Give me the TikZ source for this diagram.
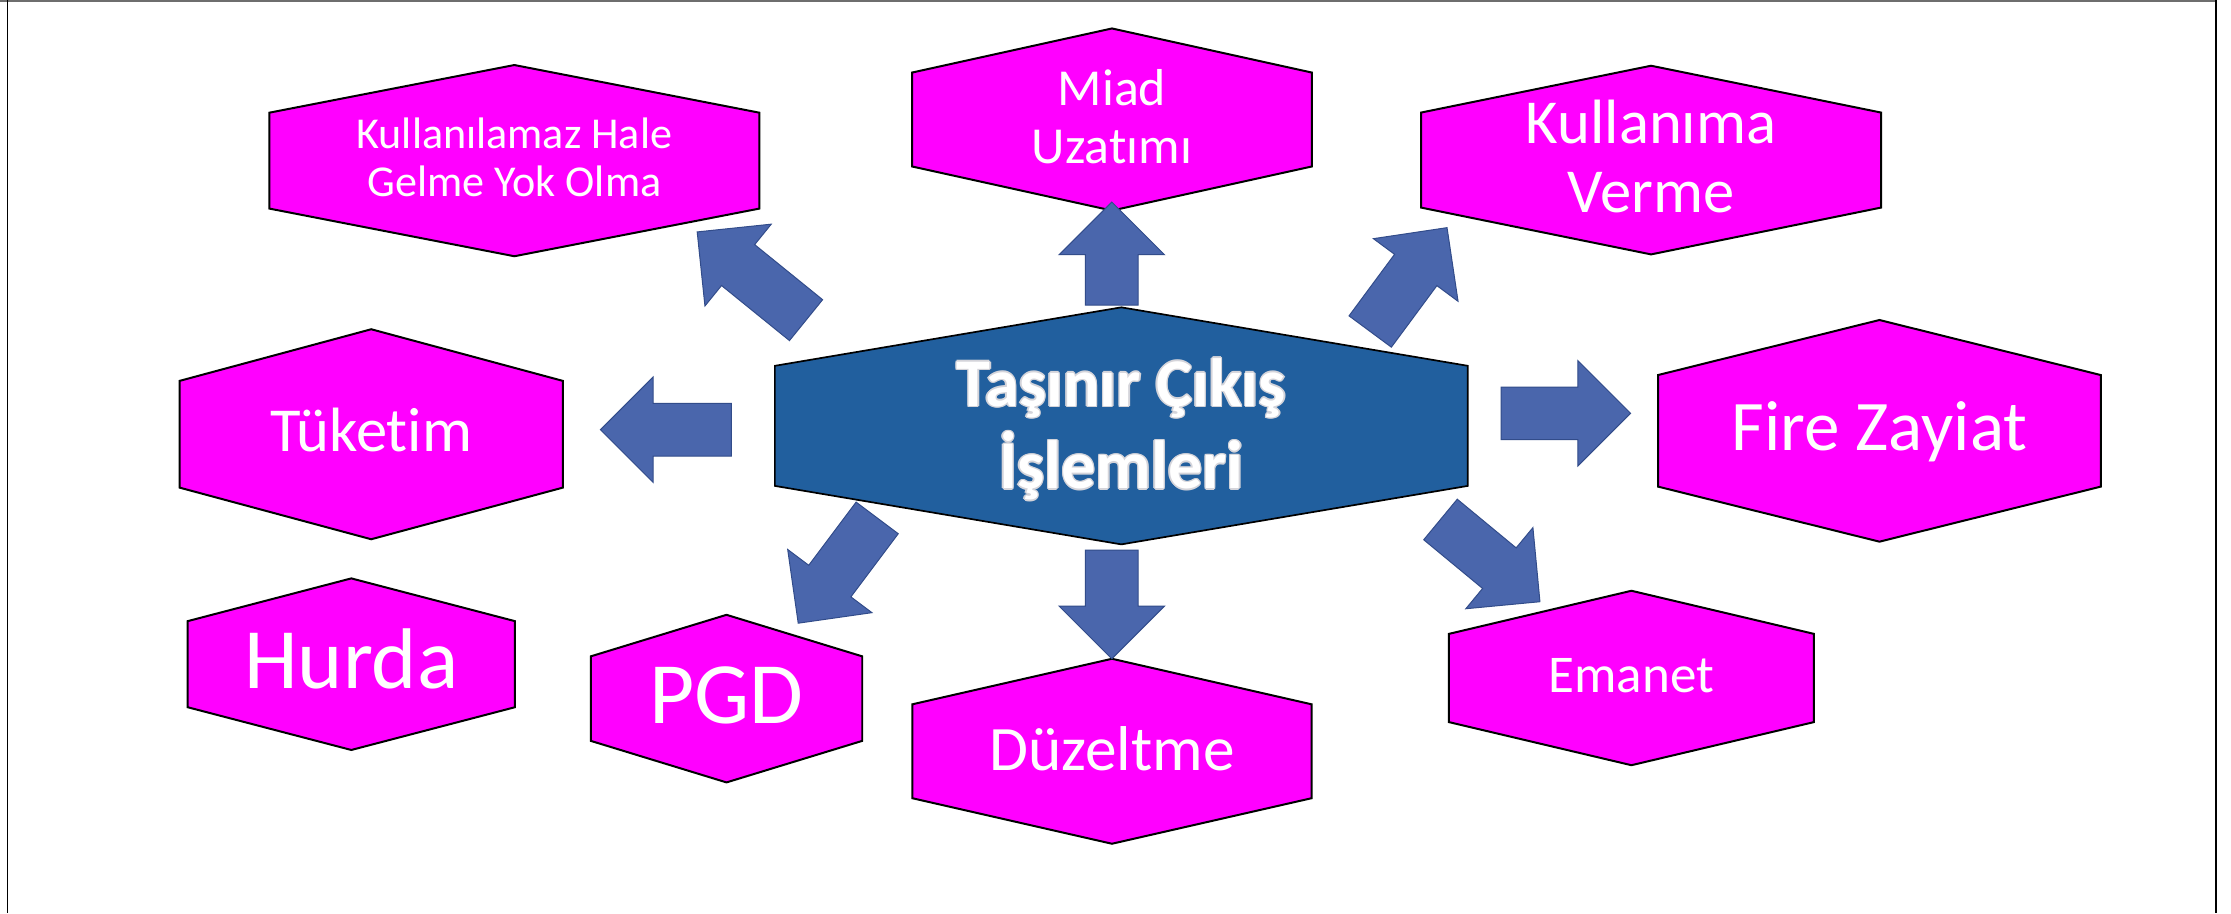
\documentclass[tikz,border=0pt]{standalone}
\usepackage{fontspec}
\setmainfont{Carlito}[Ligatures={NoCommon}]
\usetikzlibrary{calc}
\definecolor{leaf}{RGB}{255,0,255}
\definecolor{hubfill}{RGB}{33,95,158}
\definecolor{arrfill}{RGB}{74,102,172}
\definecolor{arrdraw}{RGB}{50,76,138}
\definecolor{olgray}{RGB}{212,212,218}
\definecolor{framegray}{RGB}{110,110,110}

\newcommand\olbox[1]{\setbox0=\hbox{#1}%
 \leavevmode
 \rlap{\color{olgray}\kern1pt\copy0}%
 \rlap{\color{olgray}\kern-1pt\copy0}%
 \rlap{\color{olgray}\raise1pt\copy0}%
 \rlap{\color{olgray}\lower1pt\copy0}%
 \rlap{\color{olgray}\kern.7pt\raise.7pt\copy0}%
 \rlap{\color{olgray}\kern-.7pt\raise.7pt\copy0}%
 \rlap{\color{olgray}\kern.7pt\lower.7pt\copy0}%
 \rlap{\color{olgray}\kern-.7pt\lower.7pt\copy0}%
 \box0}
\newcommand\twolines[2]{\begin{tabular}[t]{@{}c@{}}#1\\#2\end{tabular}}

% hexagon: name, cx, cy, half width, half side height, half peak height, style
\newcommand\hexat[7]{%
 \coordinate (#1) at (#2,#3);
 \draw[#7] ($(#1)+(-#4,-#5)$) -- ($(#1)+(0,-#6)$) -- ($(#1)+(#4,-#5)$)
   -- ($(#1)+(#4,#5)$) -- ($(#1)+(0,#6)$) -- ($(#1)+(-#4,#5)$) -- cycle;}

% block arrow from tail #1 to tip #2
\newcommand\blockarrow[2]{%
 \coordinate (bahs) at ($(#2)!37pt!(#1)$);
 \draw[barrow] ($(#1)!18.5pt!90:(#2)$) -- ($(bahs)!18.5pt!90:(#2)$)
   -- ($(bahs)!37pt!90:(#2)$) -- (#2) -- ($(bahs)!37pt!-90:(#2)$)
   -- ($(bahs)!18.5pt!-90:(#2)$) -- ($(#1)!18.5pt!-90:(#2)$) -- cycle;}

\begin{document}
\begin{tikzpicture}[x=1pt,y=-1pt,
  hexleaf/.style={fill=leaf,draw=black,line width=1.4pt,line join=miter},
  hub/.style={fill=hubfill,draw=black,line width=1.2pt,line join=miter},
  lbl/.style={text=white,inner sep=0pt,anchor=base},
  barrow/.style={fill=arrfill,draw=arrdraw,line width=0.7pt,line join=miter}]
\useasboundingbox (0,0) rectangle (1568,642);
\fill[white] (0,0) rectangle (1568,642);
% frame
\draw[framegray,line width=1.3pt] (0,0.8) -- (1557.4,0.8);
\draw[black,line width=1.1pt] (5.3,0) -- (5.3,642);
\draw[black,line width=1.1pt] (1557.4,0) -- (1557.4,642);

% hexagons
\hexat{hkyo}{361.5}{112.9}{172.2}{33.7}{67.2}{hexleaf}
\hexat{hmiad}{781.5}{84}{140.5}{33}{64}{hexleaf}
\hexat{hkv}{1160.4}{112.5}{161.6}{33.4}{66.3}{hexleaf}
\hexat{htuk}{260.9}{305.2}{134.7}{37.5}{73.8}{hexleaf}
\hexat{hctr}{788.1}{299.3}{243.5}{42.2}{83.3}{hub}
\hexat{hfz}{1320.9}{302.8}{155.6}{39.2}{77.9}{hexleaf}
\hexat{hhurda}{246.9}{466.8}{115}{30.25}{60.3}{hexleaf}
\hexat{hpgd}{510.6}{491}{95.4}{29.7}{58.9}{hexleaf}
\hexat{hduz}{781.5}{528}{140.3}{33}{65}{hexleaf}
\hexat{hem}{1146.6}{476.5}{128.3}{31}{61.3}{hexleaf}

% labels
\node[lbl,font=\fontsize{31}{34}\selectfont] (kyo) at (361.5,104.2)
  {\twolines{Kullanılamaz Hale}{Gelme Yok Olma}};
\node[lbl,font=\fontsize{36.5}{41}\selectfont] (miad) at (781.5,73.8)
  {\twolines{Miad}{Uzatımı}};
\node[lbl,font=\fontsize{44}{49}\selectfont] (kv) at (1160.4,100.7)
  {\twolines{Kullanıma}{Verme}};
\node[lbl,font=\fontsize{44}{50}\selectfont] (tuk) at (260.9,317.5) {Tüketim};
\node[lbl,font=\bfseries\fontsize{48}{56.6}\selectfont] (ctr) at (788.1,285.4)
  {\twolines{\olbox{Taşınır Çıkış}}{\olbox{İşlemleri}}};
\node[lbl,font=\fontsize{50}{56}\selectfont] (fz) at (1320.9,316.3) {Fire Zayiat};
\node[lbl,font=\fontsize{60.5}{66}\selectfont] (hurda) at (246.9,483.6) {Hurda};
\node[lbl,font=\fontsize{61.5}{66}\selectfont] (pgd) at (510.6,508.2) {PGD};
\node[lbl,font=\fontsize{44.5}{52}\selectfont] (duz) at (781.5,541.7) {Düzeltme};
\node[lbl,font=\fontsize{37.3}{43}\selectfont] (em) at (1146.6,486.6) {Emanet};

% arrow end points
\coordinate (t1) at (566.5,225);   \coordinate (a1) at (490,163);
\coordinate (t2) at (781.4,214.4); \coordinate (a2) at (781.4,142);
\coordinate (t3) at (963,233);     \coordinate (a3) at (1017,160);
\coordinate (t4) at (514,302);     \coordinate (a4) at (422,302);
\coordinate (t5) at (1055,290.5);  \coordinate (a5) at (1146,290.5);
\coordinate (t6) at (616.5,364);   \coordinate (a6) at (561,438);
\coordinate (t7) at (781.4,386.6); \coordinate (a7) at (781.4,463);
\coordinate (t8) at (1012.4,365.1);\coordinate (a8) at (1082.3,422.9);

\blockarrow{t1}{a1}
\blockarrow{t2}{a2}
\blockarrow{t3}{a3}
\blockarrow{t4}{a4}
\blockarrow{t5}{a5}
\blockarrow{t6}{a6}
\blockarrow{t7}{a7}
\blockarrow{t8}{a8}
\end{tikzpicture}
\end{document}
